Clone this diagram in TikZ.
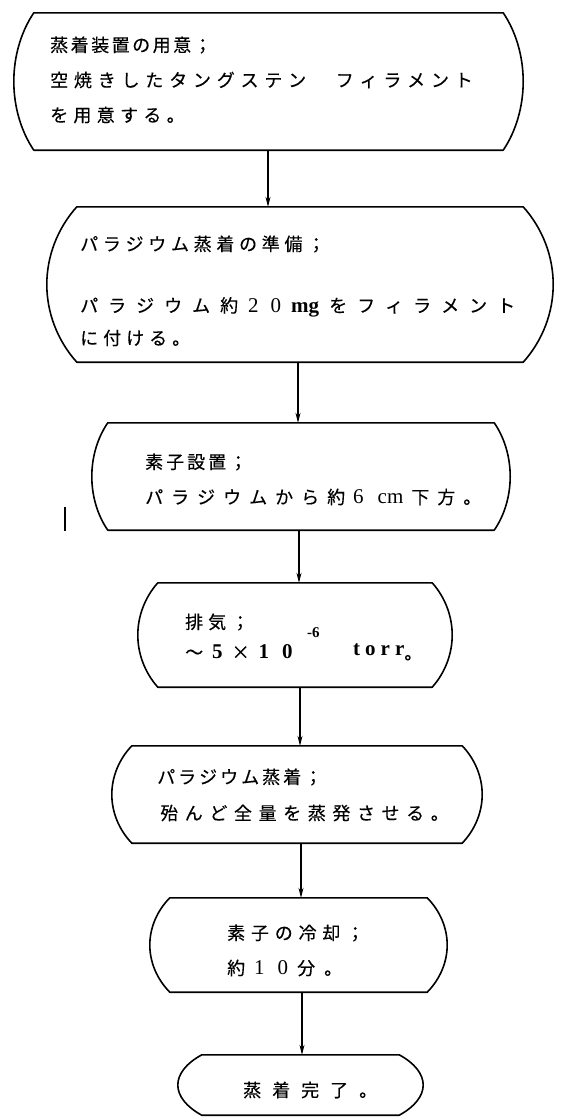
\documentclass[tikz,border=0pt]{standalone}
\usepackage{fontspec}
\usetikzlibrary{calc,arrows.meta}
\newfontfamily\jp[FakeBold=0.3]{Noto Sans CJK JP}
\newfontfamily\latserif{Liberation Serif}
\newcommand\lat{\latserif\fontsize{21}{21}\selectfont}
\newcommand\latb{\latserif\bfseries\fontsize{21}{21}\selectfont}
\newcommand\spaced[2]{\def\spgap{\hspace{#1}}\spacedloop#2\relax}
\def\spacedloop#1{\ifx\relax#1\else#1\spgap\expandafter\spacedloop\fi}
% side arcs: corner inset #2, control fractions approximate a circular arc
\newcommand\capsule[2]{%
 \draw[outline] ([xshift=#2]#1.north west) -- ([xshift=-#2]#1.north east)
   .. controls ($([xshift=-0.35*#2]#1.north east)!0.28!([xshift=-0.35*#2]#1.east)$) and ($(#1.east)!0.36!(#1.north east)$) .. (#1.east)
   .. controls ($(#1.east)!0.36!(#1.south east)$) and ($([xshift=-0.35*#2]#1.south east)!0.28!([xshift=-0.35*#2]#1.east)$) .. ([xshift=-#2]#1.south east)
   -- ([xshift=#2]#1.south west)
   .. controls ($([xshift=0.35*#2]#1.south west)!0.28!([xshift=0.35*#2]#1.west)$) and ($(#1.west)!0.36!(#1.south west)$) .. (#1.west)
   .. controls ($(#1.west)!0.36!(#1.north west)$) and ($([xshift=0.35*#2]#1.north west)!0.28!([xshift=0.35*#2]#1.west)$) .. cycle;}
\tikzset{
  boxnode/.style={draw=none,rectangle,inner sep=0pt},
  outline/.style={line width=1.6pt,line join=round},
  txt/.style={anchor=west,inner sep=0pt,font=\jp\fontsize{18}{18}\selectfont},
  arr/.style={line width=1.1pt,-{Stealth[length=10pt,width=5pt]}},
}
\begin{document}
\begin{tikzpicture}[x=1pt,y=-1pt]
\useasboundingbox (0,0) rectangle (573,1117);
% boxes
\node[boxnode,minimum width=509pt,minimum height=137pt] (b1) at (268.5,81.5) {};
\node[boxnode,minimum width=506pt,minimum height=155pt] (b2) at (300,284.5) {};
\node[boxnode,minimum width=418pt,minimum height=107pt] (b3) at (301,476.5) {};
\node[boxnode,minimum width=314pt,minimum height=104pt] (b4) at (295,635) {};
\node[boxnode,minimum width=370pt,minimum height=97pt] (b5) at (297,794.5) {};
\node[boxnode,minimum width=297pt,minimum height=94pt] (b6) at (298.5,945) {};
\node[boxnode,minimum width=245pt,minimum height=60pt] (b7) at (300.5,1085) {};
\capsule{b1}{20pt}
\capsule{b2}{30pt}
\capsule{b3}{16pt}
\capsule{b4}{20pt}
\capsule{b5}{20pt}
\capsule{b6}{20pt}
\capsule{b7}{24pt}
% texts
\node[txt] (t1a) at (50,45) {\spaced{2.5pt}{蒸着装置の用意；}};
\node[txt] (t1b) at (50,80) {\spaced{5.8pt}{空焼きしたタングステン　フィラメント}};
\node[txt] (t1c) at (50,115) {\spaced{5.3pt}{を用意する。}};
\node[txt] (t2a) at (80,244) {\spaced{4.7pt}{パラジウム蒸着の準備；}};
\node[txt] (t2b) at (80,307) {\spaced{10pt}{パラジウム約{{\lat 2}}{{\hspace{2pt}\lat 0}}{{\latb mg}}をフィラメント}};
\node[txt] (t2c) at (80,338) {\spaced{5pt}{に付ける。}};
\node[txt] (t3a) at (145,462) {\spaced{3pt}{素子設置；}};
\node[txt] (t3b) at (145,497) {\spaced{8pt}{パラジウムから約{{\lat 6}}{{\hspace{6pt}\lat cm}}下方。}};
\node[txt] (t4a) at (185,622) {\spaced{5pt}{排気；}};
\node[txt] (t4b) at (185,652) {\spaced{9pt}{～{{\latb 5}}×{{\latb 1}}{{\hspace{4pt}\latb 0}}}};
\node[txt,font=\latserif\bfseries\fontsize{15}{15}\selectfont] (t4s) at (307,633) {-6};
\node[txt] (t4c) at (353,652) {\spaced{5pt}{{{\latb t}}{{\latb o}}{{\latb r}}{{\latb r}}}\hspace{-5pt}\raisebox{-4pt}{。}};
\node[txt] (t5a) at (157,777) {\spaced{3pt}{パラジウム蒸着；}};
\node[txt] (t5b) at (160,813) {\spaced{6.6pt}{殆んど全量を蒸発させる。}};
\node[txt] (t6a) at (227,933) {\spaced{5.8pt}{素子の冷却；}};
\node[txt] (t6b) at (227,968) {\spaced{9pt}{約{{\lat 1}}{{\hspace{4pt}\lat 0}}分。}};
\node[txt] (t7) at (243,1090) {\spaced{11pt}{蒸着完了。}};
% connectors
\coordinate (x1) at (268,0);
\coordinate (x2) at (298,0);
\coordinate (x3) at (299,0);
\coordinate (x4) at (300,0);
\coordinate (x5) at (301,0);
\coordinate (x6) at (302,0);
\draw[arr] (b1.south -| x1) -- (b2.north -| x1);
\draw[arr] (b2.south -| x2) -- (b3.north -| x2);
\draw[arr] (b3.south -| x3) -- (b4.north -| x3);
\draw[arr] (b4.south -| x4) -- (b5.north -| x4);
\draw[arr] (b5.south -| x5) -- (b6.north -| x5);
\draw[arr] (b6.south -| x6) -- (b7.north -| x6);
% stray mark
\draw[line width=1.2pt] (65,507) -- (65,531);
\end{tikzpicture}
\end{document}
